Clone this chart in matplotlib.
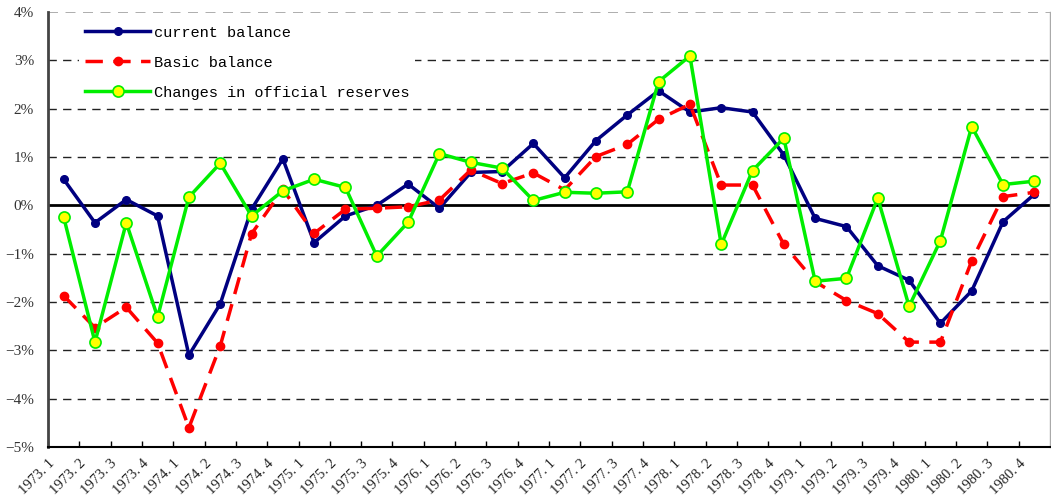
import numpy as np
import matplotlib
matplotlib.use("Agg")
import matplotlib.pyplot as plt

QUARTERS = [f"{y}. {q}" for y in range(1973, 1981) for q in range(1, 5)]

CURRENT = [0.54, -0.36, 0.12, -0.22, -3.10, -2.04, -0.08, 0.96,
           -0.77, -0.22, 0.00, 0.44, -0.06, 0.68, 0.70, 1.28,
           0.57, 1.34, 1.87, 2.37, 1.93, 2.02, 1.93, 1.04,
           -0.27, -0.44, -1.25, -1.55, -2.44, -1.77, -0.34, 0.23]
BASIC = [-1.87, -2.53, -2.11, -2.85, -4.60, -2.91, -0.59, 0.33,
         -0.58, -0.08, -0.06, -0.03, 0.11, 0.73, 0.45, 0.67,
         0.32, 1.01, 1.26, 1.78, 2.09, 0.42, 0.42, -0.81,
         -1.58, -1.97, -2.24, -2.83, -2.83, -1.15, 0.18, 0.27]
RESERVES = [-0.24, -2.83, -0.36, -2.31, 0.17, 0.87, -0.22, 0.30,
            0.54, 0.37, -1.05, -0.35, 1.07, 0.89, 0.77, 0.10,
            0.27, 0.25, 0.28, 2.56, 3.09, -0.81, 0.72, 1.39,
            -1.57, -1.51, 0.15, -2.09, -0.73, 1.63, 0.43, 0.50]
LABELS = ["current balance", "Basic balance", "Changes in official reserves"]
Y_TICKS = [-5, -4, -3, -2, -1, 0, 1, 2, 3, 4]

fig = plt.figure(figsize=(10.51, 5.0), dpi=100)
ax = fig.add_axes([48 / 1051, 53 / 500, 1002 / 1051, 435 / 500])

x = np.arange(len(QUARTERS)) + 0.5

# gridlines
for v in Y_TICKS:
    if v == 0:
        ax.axhline(0, color="black", lw=2.0, zorder=1)
    elif v == 4:
        ax.axhline(v, color="#a0a0a0", lw=1.2, dashes=(6, 4.5), zorder=1)
    else:
        ax.axhline(v, color="#222222", lw=1.0, dashes=(6, 4.5), zorder=1)

ax.plot(x, CURRENT, color="#000080", lw=2.5, marker="o", ms=5.5,
        label=LABELS[0], zorder=3)
ax.plot(x, BASIC, color="#ff0000", lw=2.5, dashes=(5, 3), marker="o", ms=6,
        label=LABELS[1], zorder=4)
ax.plot(x, RESERVES, color="#00ee00", lw=2.5, marker="o", ms=8,
        markerfacecolor="#ffff00", markeredgecolor="#00ee00", markeredgewidth=1.2,
        label=LABELS[2], zorder=5)

ax.set_xlim(0, len(QUARTERS))
ax.set_ylim(-5, 4)
ax.set_yticks(Y_TICKS)
ax.set_yticklabels([f"\u2212{-v}%" if v < 0 else f"{v}%" for v in Y_TICKS],
                   family="Liberation Serif", fontsize=11, color="#333333")
ax.tick_params(axis="y", length=0, pad=10)
ax.set_xticks(np.arange(len(QUARTERS)))
ax.set_xticklabels(QUARTERS, rotation=45, ha="right", va="top",
                   rotation_mode="anchor", family="Liberation Serif",
                   fontsize=10.5, color="#222222")
ax.tick_params(axis="x", direction="in", length=4, width=1, pad=7)

ax.spines["left"].set_linewidth(2.0)
ax.spines["left"].set_color("#444444")
ax.spines["bottom"].set_linewidth(1.5)
ax.spines["bottom"].set_color("black")
ax.spines["top"].set_visible(False)
ax.spines["right"].set_color("#aaaaaa")
ax.spines["right"].set_linewidth(1.0)

leg = ax.legend(loc="upper left", bbox_to_anchor=(0.023, 1.0), frameon=True,
                facecolor="white", edgecolor="none", framealpha=1.0, fancybox=False,
                borderpad=0.4, handlelength=4.3, handletextpad=0.2,
                labelspacing=1.05, prop={"family": "Liberation Mono", "size": 11})
leg.set_zorder(6)

fig.savefig("out.png", dpi=100)
